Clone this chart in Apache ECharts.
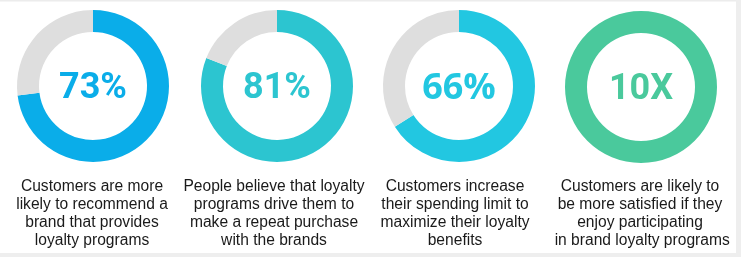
<!DOCTYPE html>
<html>
<head>
<meta charset="utf-8">
<script src="https://cdn.jsdelivr.net/npm/echarts@6/dist/echarts.min.js"></script>
<style>
html,body{margin:0;padding:0;background:#fff;}
#chart{width:741px;height:257px;}
</style>
</head>
<body>
<div id="chart"></div>
<script>
// Data
var fillPercents = [73, 81, 66, 100];
var centerLabels = ['73%', '81%', '66%', '10X'];
var captions = [
  'Customers are more\nlikely to recommend a\nbrand that provides\nloyalty programs',
  'People believe that loyalty\nprograms drive them to\nmake a repeat purchase\nwith the brands',
  'Customers increase\ntheir spending limit to\nmaximize their loyalty\nbenefits',
  'Customers are likely to\nbe more satisfied if they\nenjoy participating\n in brand loyalty programs'
];

// Styles / layout
var ringColors = ['#0AADE9', '#2CC5D0', '#22C7E1', '#4AC99C'];
var restColor = '#DEDEDE';
var centers = [[93, 86], [277, 86], [459, 86], [641, 87]];
var centerFonts = ['Roboto', 'Roboto', 'Open Sans', 'Roboto'];
var captionX = [92, 274, 455, 640];

var chart = echarts.init(document.getElementById('chart'), null, {renderer: 'canvas'});

var series = fillPercents.map(function (v, i) {
  return {
    type: 'pie',
    silent: true,
    animation: false,
    center: centers[i],
    radius: [54, 76],
    startAngle: 90,
    clockwise: true,
    avoidLabelOverlap: false,
    stillShowZeroSum: false,
    label: {show: false},
    labelLine: {show: false},
    emphasis: {disabled: true},
    itemStyle: {borderWidth: 0},
    data: [
      {value: v, itemStyle: {color: ringColors[i]}},
      {value: 100 - v, itemStyle: {color: restColor}}
    ]
  };
});

var graphics = [
  {type: 'rect', shape: {x: 0, y: 0, width: 741, height: 1.5}, style: {fill: '#ECECEC'}, silent: true},
  {type: 'rect', shape: {x: 736, y: 0, width: 5, height: 257}, style: {fill: '#EEEEEE'}, silent: true},
  {type: 'rect', shape: {x: 0, y: 253, width: 741, height: 4}, style: {fill: '#EEEEEE'}, silent: true}
];

centerLabels.forEach(function (t, i) {
  graphics.push({
    type: 'text',
    silent: true,
    x: centers[i][0],
    y: centers[i][1] + 3,
    style: {
      text: t,
      fill: ringColors[i],
      font: 'bold 36px "' + centerFonts[i] + '"',
      textAlign: 'center',
      textVerticalAlign: 'middle'
    }
  });
});

captions.forEach(function (t, i) {
  graphics.push({
    type: 'text',
    silent: true,
    x: captionX[i],
    y: 178,
    style: {
      text: t,
      fill: '#1a1a1a',
      font: '15.6px "Liberation Sans", Arial, sans-serif',
      lineHeight: 18,
      textAlign: 'center',
      textVerticalAlign: 'top'
    }
  });
});

chart.setOption({
  animation: false,
  backgroundColor: '#ffffff',
  series: series,
  graphic: graphics
});
</script>
</body>
</html>
